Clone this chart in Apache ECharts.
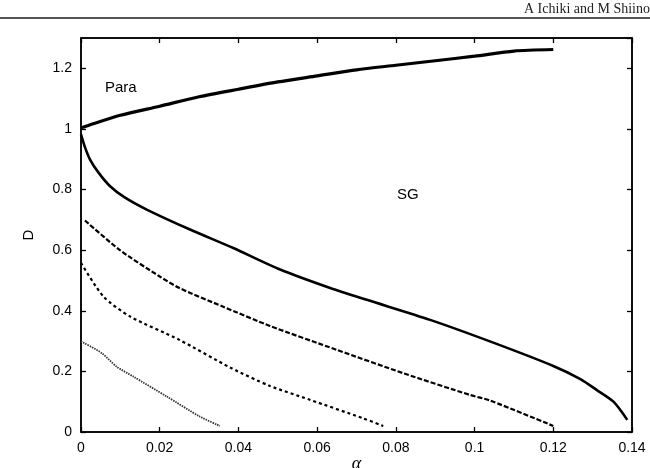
<!DOCTYPE html>
<html>
<head>
<meta charset="utf-8">
<script src="https://cdn.jsdelivr.net/npm/echarts@6/dist/echarts.min.js"></script>
<style>html,body{margin:0;padding:0;background:#fff;}#c{width:650px;height:468px;}</style>
</head>
<body>
<div id="c"></div>
<script>
// Upper Para/SG boundary
const upperX = [0, 0.002, 0.01, 0.02, 0.03, 0.04, 0.05, 0.06, 0.07, 0.08, 0.09, 0.1, 0.11, 0.12];
const upperY = [1.003, 1.012, 1.045, 1.075, 1.106, 1.131, 1.155, 1.175, 1.195, 1.21, 1.225, 1.24, 1.257, 1.262];
// Main SG boundary (solid)
const mainX = [0, 0.001, 0.0023, 0.0045, 0.0074, 0.011, 0.0167, 0.0277, 0.0387, 0.0506, 0.0633, 0.0726, 0.0887, 0.1039, 0.12, 0.127, 0.131, 0.1353, 0.1388];
const mainY = [0.982, 0.94, 0.899, 0.855, 0.811, 0.775, 0.734, 0.668, 0.607, 0.536, 0.475, 0.436, 0.37, 0.299, 0.218, 0.174, 0.139, 0.1, 0.04];
// Dashed curve
const dashX = [0.001, 0.0099, 0.02, 0.025, 0.036, 0.048, 0.065, 0.0819, 0.0989, 0.1039, 0.12];
const dashY = [0.698, 0.6, 0.513, 0.475, 0.414, 0.35, 0.271, 0.194, 0.122, 0.104, 0.02];
// Dotted curve
const dotX = [0, 0.0057, 0.0125, 0.025, 0.038, 0.048, 0.058, 0.0717, 0.0768];
const dotY = [0.558, 0.447, 0.381, 0.304, 0.212, 0.152, 0.107, 0.045, 0.02];
// Fine dotted curve
const fineX = [0, 0.0053, 0.009, 0.0133, 0.0218, 0.0302, 0.0353];
const fineY = [0.299, 0.26, 0.216, 0.183, 0.117, 0.051, 0.02];
// Axis ticks
const xTicks = [0, 0.02, 0.04, 0.06, 0.08, 0.1, 0.12, 0.14];
const yTicks = [0, 0.2, 0.4, 0.6, 0.8, 1, 1.2];

const pair = (xs, ys) => xs.map((x, i) => [x, ys[i]]);

const chart = echarts.init(document.getElementById('c'), null, {renderer: 'canvas'});
const axisFont = {fontFamily: 'Liberation Sans, Arial, sans-serif', fontSize: 14, color: '#000'};
const lineCommon = {type: 'line', showSymbol: false, symbol: 'none', animation: false, smooth: 0.25, xAxisIndex: 0, yAxisIndex: 0};
const tickStyle = {show: true, inside: true, length: 5, lineStyle: {color: '#000', width: 1.3}};
const lineStyleAx = {show: true, onZero: false, lineStyle: {color: '#000', width: 1.5}};

chart.setOption({
  backgroundColor: '#fff',
  animation: false,
  grid: {left: 81, right: 18, top: 38, bottom: 36, containLabel: false, outerBoundsMode: 'none',
         show: true, borderColor: '#000', borderWidth: 1.5, backgroundColor: 'transparent'},
  xAxis: [{
    type: 'value', min: 0, max: 0.14, interval: 0.02,
    axisLine: lineStyleAx, axisTick: tickStyle,
    axisLabel: Object.assign({margin: 9, formatter: v => String(+v.toFixed(2))}, axisFont),
    splitLine: {show: false},
    name: 'α', nameLocation: 'middle', nameGap: 23, nameMoveOverlap: false,
    nameTextStyle: {fontFamily: 'Liberation Serif, Times New Roman, serif', fontStyle: 'italic', fontSize: 18, color: '#000'}
  }, {
    type: 'value', min: 0, max: 0.14, interval: 0.02, position: 'top',
    axisLine: lineStyleAx, axisTick: tickStyle,
    axisLabel: {show: false}, splitLine: {show: false}
  }],
  yAxis: [{
    type: 'value', min: 0, max: 1.3, interval: 0.2,
    axisLine: lineStyleAx, axisTick: tickStyle,
    axisLabel: Object.assign({margin: 9, showMaxLabel: false, formatter: v => String(+v.toFixed(2))}, axisFont),
    splitLine: {show: false},
    name: 'D', nameLocation: 'middle', nameGap: 45, nameRotate: 90, nameMoveOverlap: false,
    nameTextStyle: {fontFamily: 'Liberation Sans, Arial, sans-serif', fontSize: 15, color: '#000'}
  }, {
    type: 'value', min: 0, max: 1.3, interval: 0.2, position: 'right',
    axisLine: lineStyleAx, axisTick: tickStyle,
    axisLabel: {show: false}, splitLine: {show: false}
  }],
  series: [
    Object.assign({}, lineCommon, {data: pair(upperX, upperY), lineStyle: {color: '#000', width: 3.2, type: 'solid'}}),
    Object.assign({}, lineCommon, {data: pair(mainX, mainY), lineStyle: {color: '#000', width: 2.6, type: 'solid'}}),
    Object.assign({}, lineCommon, {data: pair(dashX, dashY), lineStyle: {color: '#000', width: 2.2, type: [5, 2]}}),
    Object.assign({}, lineCommon, {data: pair(dotX, dotY), lineStyle: {color: '#000', width: 2.2, type: [3, 3]}}),
    Object.assign({}, lineCommon, {data: pair(fineX, fineY), lineStyle: {color: '#333', width: 1.8, type: [1.5, 1]}}),
    {type: 'line', xAxisIndex: 1, yAxisIndex: 1, data: [], showSymbol: false}
  ],
  graphic: [
    {type: 'text', right: 0, top: 2,
     style: {text: 'A Ichiki and M Shiino', font: '14px "Liberation Serif", "Times New Roman", serif', fill: '#222'}},
    {type: 'rect', shape: {x: 0, y: 17, width: 650, height: 2}, style: {fill: '#555'}},
    {type: 'text', left: 105, top: 80,
     style: {text: 'Para', font: '15px "Liberation Sans", Arial, sans-serif', fill: '#000'}},
    {type: 'text', left: 397, top: 187,
     style: {text: 'SG', font: '15px "Liberation Sans", Arial, sans-serif', fill: '#000'}}
  ]
});
</script>
</body>
</html>
